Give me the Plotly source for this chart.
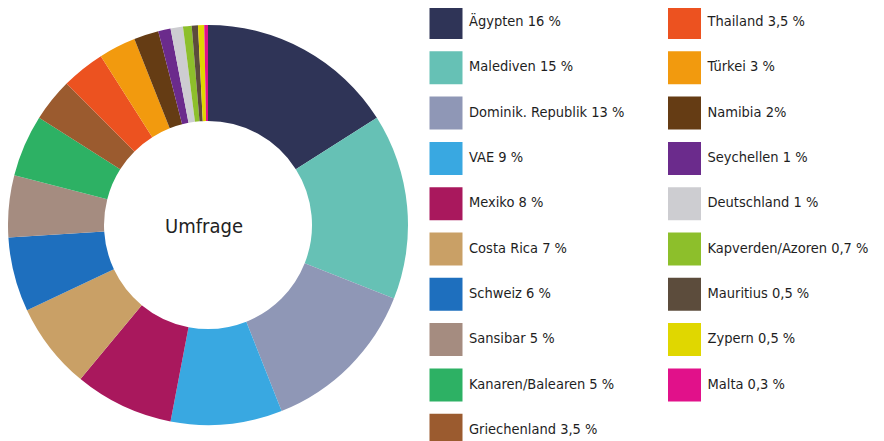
import plotly.graph_objects as go

# ---- data ----
countries = ["Ägypten", "Malediven", "Dominik. Republik", "VAE", "Mexiko",
             "Costa Rica", "Schweiz", "Sansibar", "Kanaren/Balearen", "Griechenland",
             "Thailand", "Türkei", "Namibia", "Seychellen", "Deutschland",
             "Kapverden/Azoren", "Mauritius", "Zypern", "Malta"]
values = [16, 15, 13, 9, 8, 7, 6, 5, 5, 3.5, 3.5, 3, 2, 1, 1, 0.7, 0.5, 0.5, 0.3]
colors = ["#2f3457", "#66c1b5", "#8f97b6", "#39a8e1", "#a9185d",
          "#c9a066", "#1e6fbe", "#a58c80", "#2db164", "#9b5b2f",
          "#ec5220", "#f29a0e", "#653c14", "#6b2b8c", "#cdcdd1",
          "#8dbf2b", "#5c4c3c", "#e0d700", "#e1118a"]
center_label = "Umfrage"


def fmt(v):
    return ("%g" % v).replace(".", ",")


legend_labels = []
for c, v in zip(countries, values):
    sep = "" if c == "Namibia" else " "
    legend_labels.append(f"{c} {fmt(v)}{sep}%")

# page body has an 8px margin: figure is sized to fill the rest of the window
OFF = 8
W, H = 884 - OFF, 441 - OFF
FONT = "DejaVu Sans Condensed, Liberation Sans Narrow, sans-serif"

fig = go.Figure()

# donut (target centre / radius in window pixels)
cx, cy, R = 208 - OFF, 225 - OFF, 200
fig.add_trace(go.Pie(
    labels=countries, values=values,
    marker=dict(colors=colors, line=dict(width=0)),
    hole=0.52, sort=False, direction="clockwise", rotation=0,
    textinfo="none", hoverinfo="label+percent", showlegend=False,
    domain=dict(x=[max(0, (cx - R) / W), (cx + R) / W],
                y=[1 - (cy + R) / H, 1 - (cy - R) / H]),
))

# legend built on an invisible axis grid (2 columns x 10 rows)
n_rows = 10
cols = [i // n_rows for i in range(len(countries))]
rows = [i % n_rows for i in range(len(countries))]

col0, colstep = 446.0 - OFF, 238.5
row0, rowstep = 22.5 - OFF, 45.3
text_dx = 23.0 / colstep

fig.add_trace(go.Scatter(
    x=cols, y=rows, mode="markers",
    marker=dict(symbol="square", size=33, color=colors, line=dict(width=0)),
    hoverinfo="skip", showlegend=False, cliponaxis=False,
))
fig.add_trace(go.Scatter(
    x=[c + text_dx for c in cols], y=rows, mode="text",
    text=legend_labels, textposition="middle right",
    textfont=dict(family=FONT, size=14.5, color="#1e1e1e"),
    hoverinfo="skip", showlegend=False, cliponaxis=False,
))

x0 = -col0 / colstep
x1 = x0 + W / colstep
y_top = -row0 / rowstep
y_bot = (H - row0) / rowstep

fig.update_layout(
    width=W, height=H,
    margin=dict(l=0, r=0, t=0, b=0),
    paper_bgcolor="white", plot_bgcolor="rgba(0,0,0,0)",
    xaxis=dict(range=[x0, x1], visible=False, fixedrange=True, domain=[0, 1]),
    yaxis=dict(range=[y_bot, y_top], visible=False, fixedrange=True, domain=[0, 1]),
    annotations=[dict(
        text=center_label, x=(204 - OFF) / W, y=1 - (226 - OFF) / H,
        xref="paper", yref="paper",
        showarrow=False, xanchor="center", yanchor="middle",
        font=dict(family=FONT, size=20, color="#222222"),
    )],
)

fig.write_html("out.html")
